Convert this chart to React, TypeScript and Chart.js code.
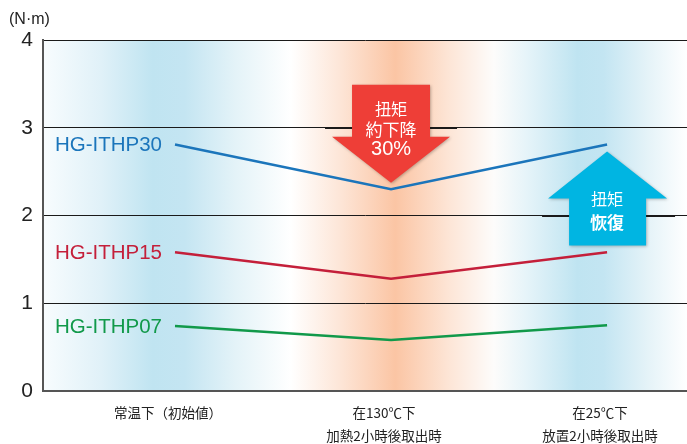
import { useEffect, useRef } from "react";
import { Chart, registerables } from "chart.js";

Chart.register(...registerables);

// ---- data ----
const categories: string[][] = [
  ["常温下（初始値）"],
  ["在130℃下", "加熱2小時後取出時"],
  ["在25℃下", "放置2小時後取出時"],
];
const categoryIndex = [0, 1, 2];
const yTicks = [0, 1, 2, 3, 4];
const seriesNames = ["HG-ITHP30", "HG-ITHP15", "HG-ITHP07"];
const ithp30 = [2.81, 2.3, 2.81];
const ithp15 = [1.58, 1.28, 1.58];
const ithp07 = [0.74, 0.58, 0.75];
const unitLabel = "(N·m)";
const downArrowText = ["扭矩", "約下降", "30%"];
const upArrowText = ["扭矩", "恢復"];

const seriesColors = ["#1b75bb", "#c41f3a", "#11994a"];
const CJK = '"Noto Sans CJK JP", "Noto Sans CJK TC", sans-serif';
const LAT = '"Liberation Sans", Arial, sans-serif';

const bgPlugin = {
  id: "bgPlugin",
  beforeDraw(chart: any) {
    const { ctx, chartArea: a } = chart;
    ctx.save();
    const g = ctx.createLinearGradient(a.left, 0, a.right, 0);
    g.addColorStop(0, "#f8fcfe");
    g.addColorStop(0.09, "#e0f1f8");
    g.addColorStop(0.17, "#c0e4f1");
    g.addColorStop(0.22, "#c4e5f2");
    g.addColorStop(0.3, "#e4f3f8");
    g.addColorStop(0.385, "#ffffff");
    g.addColorStop(0.46, "#fde6d8");
    g.addColorStop(0.547, "#fbc5a4");
    g.addColorStop(0.63, "#fde5d6");
    g.addColorStop(0.7, "#fdfcfb");
    g.addColorStop(0.75, "#e6f4f9");
    g.addColorStop(0.83, "#bfe4f1");
    g.addColorStop(0.87, "#c3e5f2");
    g.addColorStop(0.94, "#e5f3f8");
    g.addColorStop(1, "#ffffff");
    ctx.fillStyle = g;
    ctx.fillRect(a.left, a.top, a.right - a.left, a.bottom - a.top);
    ctx.fillStyle = "#222";
    ctx.font = `16px ${LAT}`;
    ctx.textAlign = "left";
    ctx.textBaseline = "middle";
    ctx.fillText(unitLabel, 9, 20);
    ctx.restore();
  },
};

function drawDownArrow(ctx: any, cx: number, top: number) {
  ctx.save();
  ctx.shadowColor = "rgba(0,0,0,0.25)";
  ctx.shadowBlur = 3;
  ctx.shadowOffsetX = 1;
  ctx.shadowOffsetY = 1;
  ctx.fillStyle = "#ee3e37";
  ctx.beginPath();
  ctx.moveTo(cx - 39, top);
  ctx.lineTo(cx + 39, top);
  ctx.lineTo(cx + 39, top + 52);
  ctx.lineTo(cx + 59, top + 52);
  ctx.lineTo(cx, top + 98);
  ctx.lineTo(cx - 59, top + 52);
  ctx.lineTo(cx - 39, top + 52);
  ctx.closePath();
  ctx.fill();
  ctx.restore();
  ctx.save();
  ctx.fillStyle = "#ffffff";
  ctx.textAlign = "center";
  ctx.textBaseline = "middle";
  ctx.font = `16px ${CJK}`;
  ctx.fillText(downArrowText[0], cx, top + 24);
  ctx.font = `17px ${CJK}`;
  ctx.fillText(downArrowText[1], cx, top + 45);
  ctx.font = `20px ${LAT}`;
  ctx.fillText(downArrowText[2], cx, top + 65);
  ctx.restore();
}

function drawUpArrow(ctx: any, cx: number, tip: number) {
  ctx.save();
  ctx.shadowColor = "rgba(0,0,0,0.25)";
  ctx.shadowBlur = 3;
  ctx.shadowOffsetX = 1;
  ctx.shadowOffsetY = 1;
  ctx.fillStyle = "#00b5e2";
  ctx.beginPath();
  ctx.moveTo(cx, tip);
  ctx.lineTo(cx + 60, tip + 47);
  ctx.lineTo(cx + 39, tip + 47);
  ctx.lineTo(cx + 39, tip + 94);
  ctx.lineTo(cx - 38, tip + 94);
  ctx.lineTo(cx - 38, tip + 47);
  ctx.lineTo(cx - 59, tip + 47);
  ctx.closePath();
  ctx.fill();
  ctx.restore();
  ctx.save();
  ctx.fillStyle = "#ffffff";
  ctx.textAlign = "center";
  ctx.textBaseline = "middle";
  ctx.font = `16px ${CJK}`;
  ctx.fillText(upArrowText[0], cx, tip + 47);
  ctx.font = `bold 17px ${CJK}`;
  ctx.fillText(upArrowText[1], cx, tip + 71);
  ctx.restore();
}

const overlayPlugin = {
  id: "overlayPlugin",
  afterDatasetsDraw(chart: any) {
    const { ctx } = chart;
    const xs = chart.scales.x;
    const ys = chart.scales.y;
    const c1 = xs.getPixelForValue(1);
    const c2 = xs.getPixelForValue(2);
    // thicker grid segments behind arrows
    ctx.save();
    ctx.strokeStyle = "#1a1a1a";
    ctx.lineWidth = 2.2;
    const y3 = Math.round(ys.getPixelForValue(3));
    ctx.beginPath();
    ctx.moveTo(c1 - 66, y3);
    ctx.lineTo(c1 + 66, y3);
    ctx.stroke();
    const y2 = Math.round(ys.getPixelForValue(2));
    ctx.beginPath();
    ctx.moveTo(c2 - 65, y2);
    ctx.lineTo(c2 + 68, y2);
    ctx.stroke();
    ctx.restore();

    drawDownArrow(ctx, c1, ys.getPixelForValue(3.49));
    drawUpArrow(ctx, c2, ys.getPixelForValue(2.73));

    // series labels
    ctx.save();
    ctx.font = `20.5px ${LAT}`;
    ctx.textAlign = "right";
    ctx.textBaseline = "middle";
    chart.data.datasets.forEach((ds: any, i: number) => {
      const meta = chart.getDatasetMeta(i);
      const p = meta.data[0];
      ctx.fillStyle = ds.borderColor;
      ctx.fillText(ds.label, p.x - 13, p.y + 1);
    });
    ctx.restore();
  },
};

export default function App() {
  const ref = useRef<HTMLCanvasElement | null>(null);
  useEffect(() => {
    document.body.style.margin = "0";
    const canvas = ref.current;
    if (!canvas) return;
    const seriesValues = [ithp30, ithp15, ithp07];
    const chart = new Chart(canvas, {
      type: "line",
      data: {
        datasets: seriesValues.map((vals, i) => ({
          label: seriesNames[i],
          data: vals.map((v, j) => ({ x: categoryIndex[j], y: v })),
          borderColor: seriesColors[i],
          backgroundColor: seriesColors[i],
          borderWidth: 2.5,
          pointRadius: 0,
          tension: 0,
          fill: false,
        })),
      },
      options: {
        animation: false,
        responsive: false,
        devicePixelRatio: 1,
        layout: { padding: { top: 40, right: 0, left: 0, bottom: 0 } },
        plugins: {
          legend: { display: false },
          tooltip: { enabled: false },
          title: { display: false },
        },
        scales: {
          x: {
            type: "linear",
            min: -0.611,
            max: 2.37,
            afterBuildTicks: (s: any) => {
              s.ticks = categoryIndex.map((v) => ({ value: v }));
            },
            afterFit: (s: any) => {
              s.height = 53;
            },
            grid: { display: false, drawTicks: false },
            border: { display: true, color: "#555", width: 2 },
            ticks: {
              autoSkip: false,
              maxRotation: 0,
              padding: 10,
              labelOffset: -7,
              color: "#222",
              font: { family: CJK, size: 13.5, lineHeight: 23 / 13.5 },
              callback: (_v: any, idx: number) => categories[idx],
            },
          },
          y: {
            min: 0,
            max: 4,
            afterBuildTicks: (s: any) => {
              s.ticks = yTicks.map((v) => ({ value: v }));
            },
            afterFit: (s: any) => {
              s.width = 43;
            },
            grid: {
              drawTicks: false,
              color: (c: any) => (c.tick && c.tick.value === 0 ? "rgba(0,0,0,0)" : "#1a1a1a"),
              lineWidth: 1,
            },
            border: { display: true, color: "#555", width: 2 },
            ticks: {
              padding: 10,
              color: "#222",
              font: { family: LAT, size: 21 },
            },
          },
        },
      },
      plugins: [bgPlugin, overlayPlugin],
    } as any);
    return () => chart.destroy();
  }, []);
  return (
    <div style={{ width: 687, height: 444 }}>
      <canvas ref={ref} width={687} height={444} style={{ display: "block" }} />
    </div>
  );
}
